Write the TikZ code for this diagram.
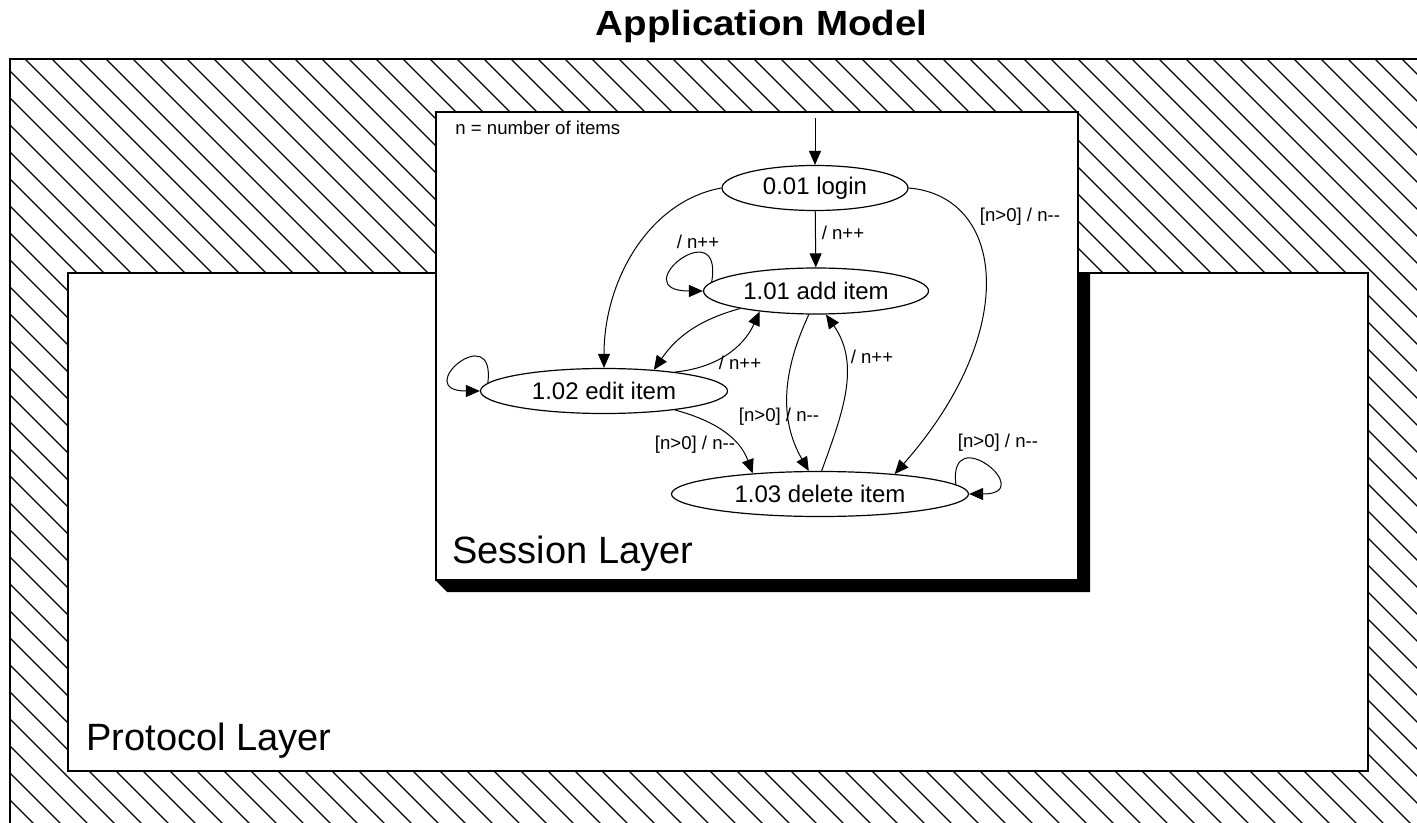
\documentclass[tikz,border=0pt]{standalone}
\usepackage{fontspec}
\setmainfont{Liberation Sans}
\usetikzlibrary{arrows.meta,shapes.geometric}
\begin{document}
\begin{tikzpicture}[x=0.5pt,y=-0.5pt,
  hatch/.style={line width=0.6pt},
  st/.style={ellipse, draw, line width=0.6pt, inner sep=0pt, font=\fontsize{12}{14}\selectfont},
  lbl/.style={inner sep=0pt, font=\fontsize{9.3}{11}\selectfont},
  conn/.style={draw, line width=0.5pt, -{Triangle[length=7pt,width=6pt]}},
  layerlbl/.style={inner sep=0pt, anchor=base west, font=\fontsize{19}{22}\selectfont}
]
\useasboundingbox (0,0) rectangle (1417,823);

% title
\node[anchor=base, inner sep=0pt, font=\fontsize{17.5}{20}\selectfont\bfseries] (title) at (761.5,36) {\scalebox{1.1}[1]{Application Model}};

% hatched outer region
\begin{scope}
  \clip (10,59) rectangle (1417,823);
  \foreach \k in {-31,...,52} {
    \draw[hatch] ({-34+27*\k},0) -- ++(900,900);
  }
\end{scope}
\draw[line width=1pt] (10,823) -- (10,59) -- (1417,59);

% protocol layer
\draw[fill=white, line width=1pt] (68,273) rectangle (1368,771);
\node[layerlbl] (protocol) at (86,750) {Protocol Layer};

% session layer with shadow
\fill[black] (1078,273) -- (1090,273) -- (1090,592) -- (447,592) -- (436,581) -- (1078,581) -- cycle;
\draw[fill=white, line width=1.2pt] (436,112) rectangle (1078,580);
\node[layerlbl] (session) at (452,563) {Session Layer};
\node[lbl, anchor=west] (legend) at (455,128) {n = number of items};

% states
\node[st, minimum width=93pt, minimum height=22.5pt] (login) at (815,188) {0.01 login};
\node[st, minimum width=112.5pt, minimum height=23pt] (add) at (816,291) {1.01 add item};
\node[st, minimum width=123.5pt, minimum height=22.5pt] (edit) at (604,391) {1.02 edit item};
\node[st, minimum width=148.5pt, minimum height=22.5pt] (del) at (820,494) {1.03 delete item};

% transitions
\coordinate (init) at (815,118);
\draw[conn] (init) -- (login.north);
\draw[conn] (login) -- (add);
\draw[conn] (login.west) .. controls +(-72,13) and +(0,-88) .. (edit.north);
\draw[conn] (login.east) .. controls +(96,8) and +(127,-144) .. (del.15);
\draw[conn] (add.175) .. controls +(12,-72) and +(-80,0) .. (add.west);
\draw[conn] (add.193) to[bend right=20] (edit.23);
\draw[conn] (edit.15) to[bend right=30] (add.200);
\draw[conn] (edit.176) .. controls +(8,-65) and +(-70,0) .. (edit.west);
\draw[conn] (edit.345) to[out=-15, in=110] (del.163);
\draw[conn] (add.253) to[out=245, in=120] (del.116);
\draw[conn] (del.86) to[out=70, in=-55] (add.293);
\draw[conn] (del.4) .. controls +(-8,-65) and +(70,0) .. (del.east);

% labels
\node[lbl] (l1) at (843,233) {/ n++};
\node[lbl] (l2) at (1020,217) {[n>0] / n-{}-};
\node[lbl] (l3) at (698,242) {/ n++};
\node[lbl] (l4) at (740,363) {/ n++};
\node[lbl] (l5) at (695,445) {[n>0] / n-{}-};
\node[lbl] (l6) at (779,417) {[n>0] / n-{}-};
\node[lbl] (l7) at (872,357) {/ n++};
\node[lbl] (l8) at (998,443) {[n>0] / n-{}-};
\end{tikzpicture}
\end{document}
